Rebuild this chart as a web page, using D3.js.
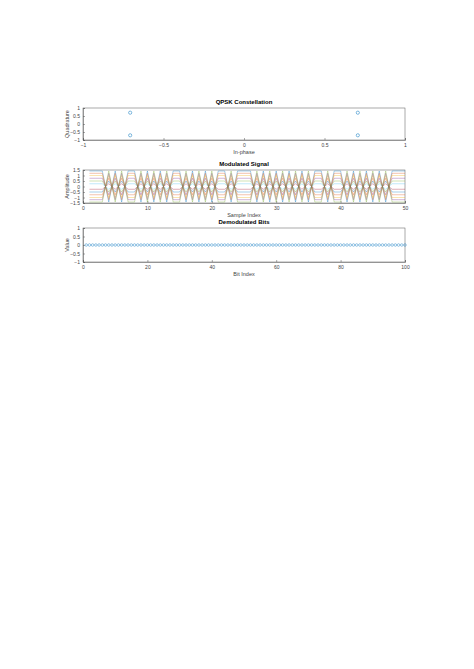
<!DOCTYPE html>
<html><head><meta charset="utf-8">
<script src="https://cdn.jsdelivr.net/npm/d3@7"></script>
<style>
body{margin:0;background:#fff;font-family:"Liberation Sans",Arial,sans-serif}
.axis text{font-size:5px;fill:#444}
.axis path,.axis line{stroke:#555;stroke-width:0.5}
</style></head><body>
<script>
// constellation
var constI = [-0.707, -0.707, 0.707, 0.707];
var constQ = [0.707, -0.707, 0.707, -0.707];
// modulated signal: symbol signs per sample and amplitude of each trace
var symbolSign = [1,1,1,-1,1,-1,1,1,-1,1,-1,1,-1,1,1,-1,1,-1,1,-1,1,1,-1,1,1,1,-1,1,-1,1,-1,1,-1,1,-1,1,1,-1,1,1,-1,1,-1,1,-1,1,-1,1,1,1];
var traceAmp = [1.41, 1.2, 1.0, 0.75, 0.5, 0.25, -0.25, -0.5, -0.75, -1.0, -1.2, -1.41];
// demodulated bits (all zero)
var bits = [];
for (var b = 0; b < 100; b++) bits.push(0);
var colors = ["#0072BD","#D95319","#EDB120","#7E2F8E","#77AC30","#4DBEEE","#A2142F"];

var svg = d3.select("body").append("svg").attr("width", 474).attr("height", 669);
var left = 83, right = 405;

function panel(top, h, xd, yd, xt, yt, title, xlab, ylab) {
  var x = d3.scaleLinear().domain(xd).range([left, right]);
  var y = d3.scaleLinear().domain(yd).range([top + h, top]);
  svg.append("rect").attr("x", left).attr("y", top).attr("width", right - left).attr("height", h)
    .attr("fill", "none").attr("stroke", "#555").attr("stroke-width", 0.5);
  svg.append("g").attr("class", "axis").attr("transform", "translate(0," + (top + h) + ")")
    .call(d3.axisBottom(x).tickValues(xt).tickSize(-2).tickPadding(3).tickFormat(d3.format("")));
  svg.append("g").attr("class", "axis").attr("transform", "translate(" + left + ",0)")
    .call(d3.axisLeft(y).tickValues(yt).tickSize(-2).tickPadding(3).tickFormat(d3.format("")));
  svg.append("text").attr("x", (left + right) / 2).attr("y", top - 4).attr("text-anchor", "middle")
    .attr("font-size", 6).attr("font-weight", "bold").text(title);
  if (xlab) svg.append("text").attr("x", (left + right) / 2).attr("y", top + h + 14).attr("text-anchor", "middle")
    .attr("font-size", 5.5).attr("fill", "#444").text(xlab);
  svg.append("text").attr("transform", "translate(" + (left - 14) + "," + (top + h / 2) + ") rotate(-90)")
    .attr("text-anchor", "middle").attr("font-size", 5.5).attr("fill", "#444").text(ylab);
  return {x: x, y: y};
}

var p1 = panel(108, 32, [-1, 1], [-1, 1], [-1, -0.5, 0, 0.5, 1], [-1, -0.5, 0, 0.5, 1],
  "QPSK Constellation", "In-phase", "Quadrature");
svg.selectAll(".cp").data(constI).enter().append("circle")
  .attr("cx", function(d) { return p1.x(d); })
  .attr("cy", function(d, i) { return p1.y(constQ[i]); })
  .attr("r", 1.6).attr("fill", "none").attr("stroke", "#0072BD").attr("stroke-width", 0.5);

var p2 = panel(170, 33, [0, 50], [-1.5, 1.5], [0, 10, 20, 30, 40, 50], [-1.5, -1, -0.5, 0, 0.5, 1, 1.5],
  "Modulated Signal", "Sample Index", "Amplitude");
var line = d3.line().x(function(d, i) { return p2.x(i + 1); }).y(function(d) { return p2.y(d); });
traceAmp.forEach(function(a, k) {
  svg.append("path").datum(symbolSign.map(function(s) { return s * a; }))
    .attr("d", line).attr("fill", "none").attr("stroke", colors[k % 7])
    .attr("stroke-width", 0.5).attr("opacity", 0.7);
});

var p3 = panel(228, 34, [0, 100], [-1, 1], [0, 20, 40, 60, 80, 100], [-1, -0.5, 0, 0.5, 1],
  "Demodulated Bits", "Bit Index", "Value");
svg.selectAll(".bp").data(bits).enter().append("circle")
  .attr("cx", function(d, i) { return p3.x(i + 1); })
  .attr("cy", function(d) { return p3.y(d); })
  .attr("r", 1.3).attr("fill", "none").attr("stroke", "#0072BD").attr("stroke-width", 0.4);
</script>
</body></html>
